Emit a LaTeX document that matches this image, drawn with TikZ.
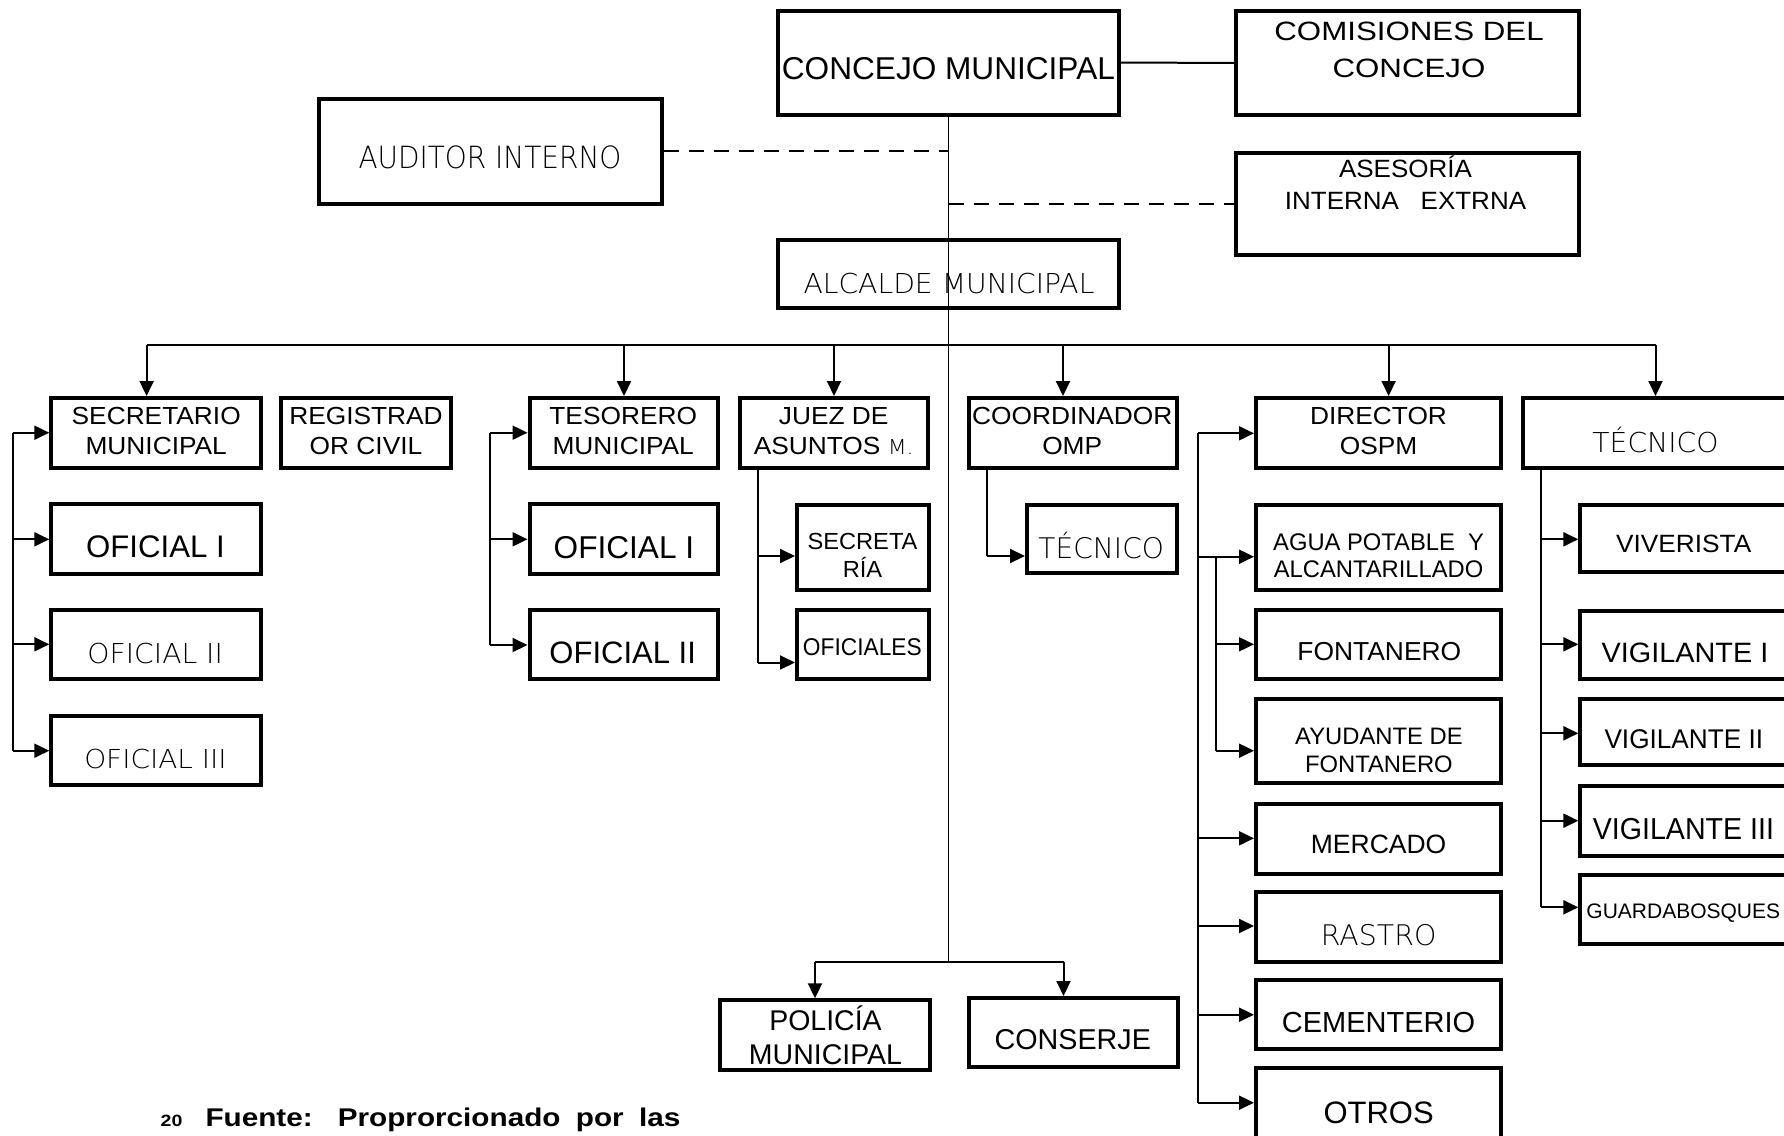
\documentclass[tikz,border=0pt]{standalone}
\usepackage{fontspec}
\usepackage{graphicx}
\setmainfont{Liberation Sans}
\IfFontExistsTF{DejaVu Sans ExtraLight}{\newfontfamily\thinfont{DejaVu Sans ExtraLight}}{\newfontfamily\thinfont{DejaVu Sans}}
\usetikzlibrary{arrows.meta}
\tikzset{
  box/.style={draw, line width=4pt, inner sep=0pt},
  txt/.style={inner sep=0pt, outer sep=0pt, anchor=center},
  conn/.style={line width=2pt},
  mainl/.style={line width=1.6pt},
  dashl/.style={line width=2.2pt, dash pattern=on 15pt off 10pt},
  arr/.style={line width=2pt, -{Triangle[length=15pt,width=14pt]}}
}
% name, x1, y1, x2, y2 (border centre lines, image pixels)
\newcommand\boxnode[5]{\node[box, minimum width={#4-#2}, minimum height={#5-#3}] (#1) at ({(#2+#4)/2},{(#3+#5)/2}) {};}
% name, x centre, y of cap-middle, font size, x-stretch, line spacing, text
\newcommand\txtnode[7]{\node[txt] (#1) at (#2,{#3+0.358*#4-0.2*#6}) {\scalebox{#5}[1]{\fontsize{#4}{#6}\selectfont\begin{tabular}{@{}c@{}}#7\end{tabular}}};}
\begin{document}
\begin{tikzpicture}[x=1pt,y=-1pt]
\useasboundingbox (0,0) rectangle (1784,1135);
\clip (0,0) rectangle (1784,1135);
% ---------- boxes ----------
\boxnode{concejo}{778}{10.5}{1119}{114.5}
\boxnode{comis}{1236}{11.3}{1579}{114.7}
\boxnode{auditor}{318.7}{98.7}{662.3}{203.7}
\boxnode{asesor}{1236}{152.5}{1579}{255}
\boxnode{alcalde}{778}{240}{1119}{308}
\boxnode{sec}{51.3}{398}{260.5}{468}
\boxnode{reg}{281.3}{398}{451.3}{468}
\boxnode{tes}{529.5}{398}{718}{468}
\boxnode{juez}{740.3}{398}{928}{468}
\boxnode{coord}{968.7}{398}{1177}{468}
\boxnode{dir}{1256}{398}{1501}{468}
\boxnode{tecr}{1522.7}{398}{1790}{468}
\boxnode{of1s}{51.3}{503.7}{260.5}{573.7}
\boxnode{of2s}{51.3}{610.3}{260.5}{679.3}
\boxnode{of3s}{51.3}{715.5}{260.5}{784.7}
\boxnode{of1t}{529.5}{503.7}{718}{573.7}
\boxnode{of2t}{529.5}{610.3}{718}{679.3}
\boxnode{secre}{797}{504.7}{928.7}{590.3}
\boxnode{ofic}{797}{610.3}{928.7}{678.7}
\boxnode{tecc}{1027}{504.7}{1177}{572.5}
\boxnode{agua}{1256}{504.7}{1501}{589.7}
\boxnode{font}{1256}{610.3}{1501}{678.7}
\boxnode{ayud}{1256}{698.7}{1501}{783}
\boxnode{merc}{1256}{803.7}{1501}{873.7}
\boxnode{rast}{1256}{892}{1501}{962}
\boxnode{ceme}{1256}{980.3}{1501}{1048.7}
\boxnode{otros}{1256}{1068}{1501}{1138}
\boxnode{conserje}{969.4}{998}{1178}{1067}
\boxnode{policia}{720.4}{1000.3}{930}{1070.3}
\boxnode{viv}{1580.3}{505}{1790}{572}
\boxnode{vig1}{1580.3}{610.5}{1790}{678.5}
\boxnode{vig2}{1580.3}{698.7}{1790}{765.3}
\boxnode{vig3}{1580.3}{785.5}{1790}{856}
\boxnode{guarda}{1580.3}{874.7}{1790}{943.7}
% ---------- texts ----------
\txtnode{t-concejo}{948.4}{68.3}{31.6}{1.0}{38}{CONCEJO MUNICIPAL}
\txtnode{t-comis}{1409}{49.5}{26.5}{1.18}{36.7}{COMISIONES DEL\\CONCEJO}
\txtnode{t-asesor}{1405.5}{184.2}{25}{1.04}{32.3}{ASESORÍA\\INTERNA\ \ \ EXTRNA}
\txtnode{t-auditor}{490}{157.9}{30.6}{0.913}{36}{\thinfont AUDITOR INTERNO}
\txtnode{t-alcalde}{949}{283.3}{27.4}{1.03}{33}{\thinfont ALCALDE MUNICIPAL}
\txtnode{t-sec}{156.2}{430.5}{24.7}{1.065}{30}{SECRETARIO\\MUNICIPAL}
\txtnode{t-reg}{366}{430.5}{24.7}{1.065}{30}{REGISTRAD\\OR CIVIL}
\txtnode{t-tes}{623.2}{430.7}{24.7}{1.065}{30}{TESORERO\\MUNICIPAL}
\txtnode{t-juez}{833.7}{430.5}{24.7}{1.065}{30}{JUEZ DE\\ASUNTOS {\thinfont\fontsize{20.6}{30}\selectfont M.}}
\txtnode{t-coord}{1072.2}{430.5}{24.7}{1.065}{30}{COORDINADOR\\OMP}
\txtnode{t-dir}{1378.5}{430.8}{24.7}{1.065}{30}{DIRECTOR\\OSPM}
\txtnode{t-tecr}{1655.5}{441.7}{27.4}{1.03}{33}{\thinfont TÉCNICO}
\txtnode{t-of1s}{155.4}{546.2}{31.2}{1.0}{37}{OFICIAL I}
\txtnode{t-of2s}{155.2}{653.3}{27.4}{1.03}{33}{\thinfont OFICIAL II}
\txtnode{t-of3s}{155.4}{758.8}{26.1}{1.07}{31}{\thinfont OFICIAL III}
\txtnode{t-of1t}{623.9}{546.7}{31.6}{1.0}{38}{OFICIAL I}
\txtnode{t-of2t}{622.7}{652.5}{31}{1.0}{37}{OFICIAL II}
\txtnode{t-secre}{862.5}{555}{23.3}{1.015}{26.7}{SECRETA\\RÍA}
\txtnode{t-ofic}{862.4}{647}{24.2}{0.94}{29}{OFICIALES}
\txtnode{t-tecc}{1101.2}{547}{28.4}{0.99}{34}{\thinfont TÉCNICO}
\txtnode{t-agua}{1378.6}{555.3}{24}{0.99}{26.7}{AGUA POTABLE\ \ Y\\ALCANTARILLADO}
\txtnode{t-font}{1379.3}{650.8}{26}{1.015}{31}{FONTANERO}
\txtnode{t-ayud}{1378.9}{750}{23.8}{1.0}{28.3}{AYUDANTE DE\\FONTANERO}
\txtnode{t-merc}{1378.6}{843.8}{26.5}{1.0}{32}{MERCADO}
\txtnode{t-rast}{1378.6}{935.3}{28.4}{1.0}{34}{\thinfont RASTRO}
\txtnode{t-ceme}{1378.6}{1022.3}{29}{1.0}{35}{CEMENTERIO}
\txtnode{t-otros}{1378.6}{1112}{31}{1.0}{37}{OTROS}
\txtnode{t-conserje}{1072.8}{1039.3}{28.7}{1.0}{34}{CONSERJE}
\txtnode{t-policia}{825.5}{1036.7}{28.5}{1.0}{33.3}{POLICÍA\\MUNICIPAL}
\txtnode{t-viv}{1683.7}{543.8}{25}{1.05}{30}{VIVERISTA}
\txtnode{t-vig1}{1685}{652.7}{28}{1.03}{34}{VIGILANTE I}
\txtnode{t-vig2}{1683.8}{738.7}{27}{0.97}{32}{VIGILANTE II}
\txtnode{t-vig3}{1683.4}{828.5}{30.3}{0.944}{36}{VIGILANTE III}
\txtnode{t-guarda}{1683.3}{910.8}{21}{1.0}{25}{GUARDABOSQUES}
% footnote
\node[txt, anchor=base west] (fnum) at (160.7,1126.7) {\scalebox{1.2}[1]{\fontsize{16.3}{18}\selectfont\bfseries 20}};
\node[txt, anchor=base west] (fuente) at (205.5,1126.7) {\scalebox{1.16}[1]{\fontsize{25.6}{30}\selectfont\bfseries\makebox[409.3pt][s]{Fuente: Proprorcionado por las}}};
% ---------- connectors ----------
\draw[conn] (concejo.east) -- (comis.west);
\coordinate (mbot) at (948.5,961.7);
\draw[mainl] (concejo.south) -- (mbot);
\draw[dashl] (auditor.east) -- (auditor.east -| concejo.south);
\draw[dashl] (asesor.west -| concejo.south) -- (asesor.west);
% bus
\coordinate (b1) at (146.6,345);
\coordinate (b2) at (624,345);
\coordinate (b3) at (834,345);
\coordinate (b4) at (1063,345);
\coordinate (b5) at (1388.6,345);
\coordinate (b6) at (1655.5,345);
\draw[conn] (b1) -- (b6);
\draw[arr] (b1) -- (b1 |- sec.north);
\draw[arr] (b2) -- (b2 |- tes.north);
\draw[arr] (b3) -- (b3 |- juez.north);
\draw[arr] (b4) -- (b4 |- coord.north);
\draw[arr] (b5) -- (b5 |- dir.north);
\draw[arr] (b6) -- (b6 |- tecr.north);
% bottom branch
\coordinate (p1) at (815,961.7);
\coordinate (p2) at (1063.5,961.7);
\draw[conn] (p1) -- (p2);
\draw[arr] (p1) -- (p1 |- policia.north);
\draw[arr] (p2) -- (p2 |- conserje.north);
% secretario group
\coordinate (sv1) at (12.6,432.7);
\coordinate (sv2) at (12.6,539.3);
\coordinate (sv3) at (12.6,644.3);
\coordinate (sv4) at (12.6,750.7);
\draw[conn] (sv1) -- (sv4);
\draw[arr] (sv1) -- (sv1 -| sec.west);
\draw[arr] (sv2) -- (sv2 -| of1s.west);
\draw[arr] (sv3) -- (sv3 -| of2s.west);
\draw[arr] (sv4) -- (sv4 -| of3s.west);
% tesorero group
\coordinate (tv1) at (490,432.7);
\coordinate (tv2) at (490,539.3);
\coordinate (tv3) at (490,645);
\draw[conn] (tv1) -- (tv3);
\draw[arr] (tv1) -- (tv1 -| tes.west);
\draw[arr] (tv2) -- (tv2 -| of1t.west);
\draw[arr] (tv3) -- (tv3 -| of2t.west);
% juez group
\coordinate (jv1) at (757.5,556);
\coordinate (jv2) at (757.5,662.5);
\draw[conn] (juez.south -| jv2) -- (jv2);
\draw[arr] (jv1) -- (jv1 -| secre.west);
\draw[arr] (jv2) -- (jv2 -| ofic.west);
% coordinador group
\coordinate (cv1) at (986.7,556);
\draw[conn] (coord.south -| cv1) -- (cv1);
\draw[arr] (cv1) -- (cv1 -| tecc.west);
% director group
\coordinate (ov1) at (1197.7,433.3);
\coordinate (ov2) at (1197.7,556.7);
\coordinate (ov3) at (1197.7,838.3);
\coordinate (ov4) at (1197.7,926);
\coordinate (ov5) at (1197.7,1014.7);
\coordinate (ov6) at (1197.7,1102.7);
\coordinate (iv1) at (1216,556.7);
\coordinate (iv2) at (1216,644.3);
\coordinate (iv3) at (1216,750.7);
\draw[conn] (ov1) -- (ov6);
\draw[conn] (iv1) -- (iv3);
\draw[arr] (ov1) -- (ov1 -| dir.west);
\draw[arr] (ov2) -- (ov2 -| agua.west);
\draw[arr] (iv2) -- (iv2 -| font.west);
\draw[arr] (iv3) -- (iv3 -| ayud.west);
\draw[arr] (ov3) -- (ov3 -| merc.west);
\draw[arr] (ov4) -- (ov4 -| rast.west);
\draw[arr] (ov5) -- (ov5 -| ceme.west);
\draw[arr] (ov6) -- (ov6 -| otros.west);
% tecnico group
\coordinate (rv1) at (1540.7,539.3);
\coordinate (rv2) at (1540.7,644.3);
\coordinate (rv3) at (1540.7,733.3);
\coordinate (rv4) at (1540.7,820.7);
\coordinate (rv5) at (1540.7,907.3);
\draw[conn] (tecr.south -| rv5) -- (rv5);
\draw[arr] (rv1) -- (rv1 -| viv.west);
\draw[arr] (rv2) -- (rv2 -| vig1.west);
\draw[arr] (rv3) -- (rv3 -| vig2.west);
\draw[arr] (rv4) -- (rv4 -| vig3.west);
\draw[arr] (rv5) -- (rv5 -| guarda.west);
\end{tikzpicture}
\end{document}
